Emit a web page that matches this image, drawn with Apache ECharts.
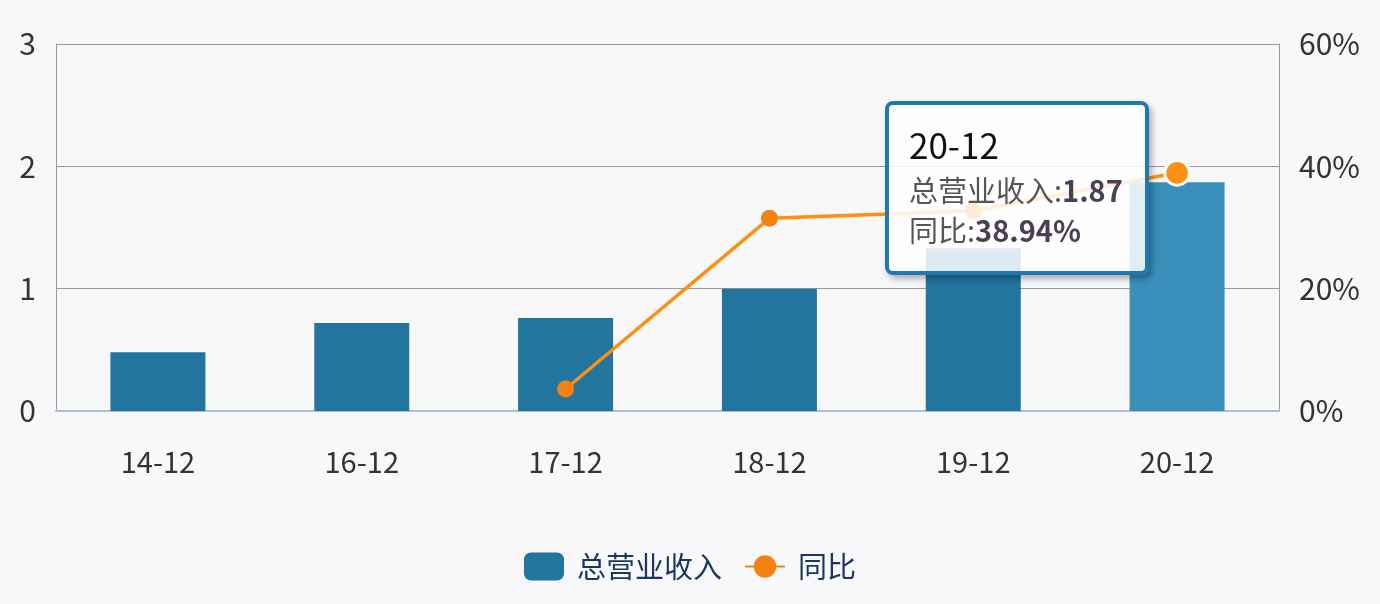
<!DOCTYPE html>
<html lang="zh">
<head>
    <meta charset="UTF-8">
    <title>总营业收入</title>
    <style type="text/css">
        *{
            margin: 0px;
            padding: 0px;
        }
        body{
            background-color: #f8f8fb;
        }
        #chart{
            width: 1380px;
            height: 604px;
        }
    </style>
</head>
<body>
<div id="chart"></div>
<script src="https://cdn.jsdelivr.net/npm/echarts@6/dist/echarts.min.js"></script>
<script type="text/javascript">
  var periods = ['14-12', '16-12', '17-12', '18-12', '19-12', '20-12'];
  var revenue = [0.48, 0.72, 0.76, 1.0, 1.33, 1.87];
  var yoy = [null, null, 3.6, 31.5, 32.7, 38.94];

  var myChart = echarts.init(document.getElementById('chart'));

  myChart.setOption({
    backgroundColor: '#f8f8fb',
    textStyle: {
      fontFamily: 'Noto Sans CJK SC'
    },
    grid: {
      left: 56,
      right: 101,
      top: 44,
      bottom: 193
    },
    tooltip: {
      trigger: 'axis',
      axisPointer: {
        type: 'none'     // 不显示指示器
      },
      backgroundColor: 'rgba(255,255,255,0.85)',
      borderColor: '#1f78b4',
      borderWidth: 4,
      borderRadius: 8,
      padding: [14, 22, 22, 20],
      extraCssText: 'box-shadow: 3px 4px 6px rgba(0,0,0,0.3);',
      position: function (point, params, dom, rect, size) {
        return [point[0] - size.contentSize[0] - 28, point[1] - 72];
      },
      formatter: function (params) {
        var s = '<div style="font-size:35px;color:#111;line-height:50px;">' + params[0].name + '</div>';
        for (var i = 0; i < params.length; i++) {
          var v = params[i].value;
          if (params[i].seriesName === '同比') v = v + '%';
          s += '<div style="font-size:29px;color:#555;line-height:40px;">' + params[i].seriesName +
            ':<b style="color:#4a3f55;">' + v + '</b></div>';
        }
        return s;
      }
    },
    legend: {
      bottom: 18,
      left: 'center',
      itemWidth: 40,
      itemHeight: 28,
      itemGap: 22,
      textStyle: {
        fontSize: 29,
        color: '#1c3664',
        padding: [0, 0, 0, 8]
      },
      data: ['总营业收入', '同比']
    },
    xAxis: {
      type: 'category',
      data: periods,
      axisLine: {
        lineStyle: { color: '#a9c0db', width: 2 }
      },
      axisTick: {
        length: 12,
        lineStyle: { color: '#a9c0db' }
      },
      axisLabel: {
        margin: 36,
        fontSize: 29,
        color: '#333'
      }
    },
    yAxis: [
      {
        type: 'value',
        min: 0,
        max: 3,
        interval: 1,
        axisLine: { show: true, lineStyle: { color: '#999' } },
        axisTick: { show: false },
        splitLine: { lineStyle: { color: '#999' } },
        axisLabel: { margin: 20, fontSize: 30, color: '#333' }
      },
      {
        type: 'value',
        min: 0,
        max: 60,
        interval: 20,
        axisLine: { show: true, lineStyle: { color: '#999' } },
        axisTick: { show: false },
        splitLine: { show: false },
        axisLabel: { margin: 20, fontSize: 30, color: '#333', formatter: '{value}%' }
      }
    ],
    series: [
      {
        name: '总营业收入',
        type: 'bar',
        barWidth: 95,
        data: revenue,
        itemStyle: { color: '#21759f' },
        emphasis: {
          itemStyle: { color: '#3a8fbb' }
        }
      },
      {
        name: '同比',
        type: 'line',
        yAxisIndex: 1,
        data: yoy,
        symbol: 'circle',
        symbolSize: 17,
        itemStyle: { color: '#f5820f' },
        lineStyle: { color: '#f5820f', width: 3.5 },
        emphasis: {
          scale: 1.45,
          itemStyle: { borderColor: '#fff', borderWidth: 3 }
        }
      }
    ]
  });

  myChart.dispatchAction({ type: 'showTip', seriesIndex: 1, dataIndex: 5 });
  myChart.dispatchAction({ type: 'highlight', seriesIndex: 0, dataIndex: 5 });
  myChart.dispatchAction({ type: 'highlight', seriesIndex: 1, dataIndex: 5 });
</script>
</body>
</html>
